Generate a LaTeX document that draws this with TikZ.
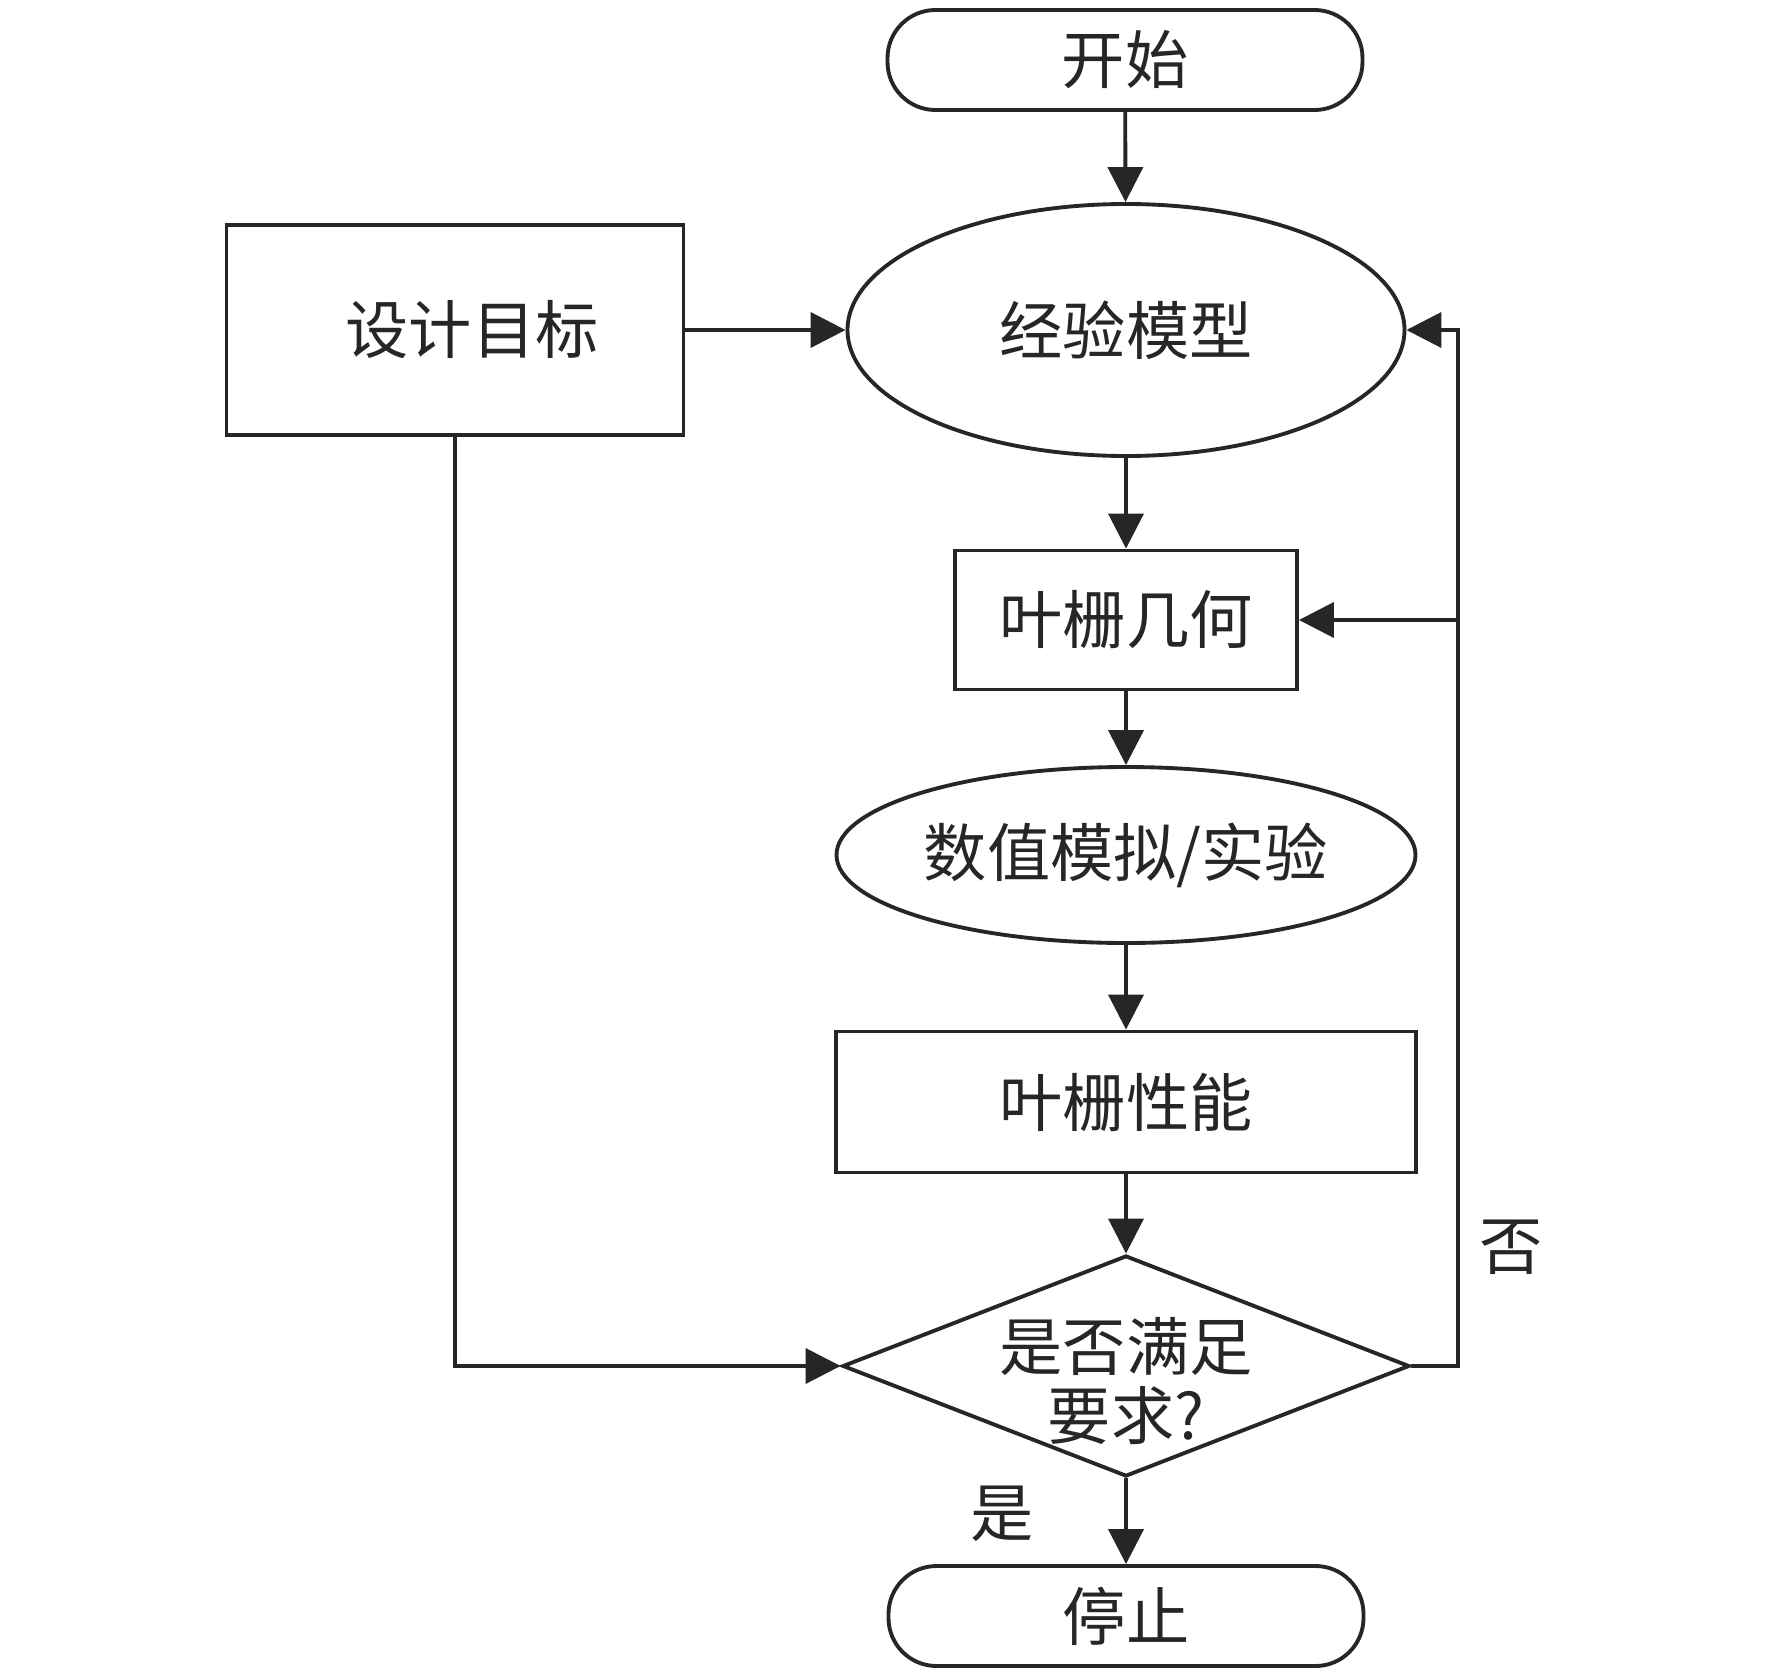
\documentclass[tikz,border=0pt]{standalone}
\usepackage{fontspec}
\setmainfont{Noto Sans CJK SC}
\usetikzlibrary{arrows.meta, positioning, calc, shapes.geometric}

\begin{document}
\begin{tikzpicture}[>={Triangle[length=3.5mm, width=3.5mm]}, line width=1.1pt, color=black!85,
  font=\fontsize{18}{26}\selectfont,
  term/.style={draw, rectangle, rounded corners=4.8mm, minimum width=4.75cm, minimum height=1.0cm, inner sep=0pt},
  proc/.style={draw, rectangle, inner sep=0pt},
  oval/.style={draw, ellipse, inner sep=0pt},
  judge/.style={draw, diamond, inner sep=0pt, minimum width=5.67cm, minimum height=2.21cm}]
\useasboundingbox (0,0) rectangle (17.72,-16.77);
% 流程主干
\node[term] (start) at (11.25,-0.60) {开始};
\node[oval, minimum width=5.57cm, minimum height=2.52cm] (model) at (11.26,-3.30) {经验模型};
\node[proc, minimum width=4.57cm, minimum height=2.10cm] (target) at (4.55,-3.30) {\hspace*{3.4mm}设计目标};
\node[proc, minimum width=3.42cm, minimum height=1.39cm] (geom) at (11.26,-6.20) {叶栅几何};
\node[oval, minimum width=5.79cm, minimum height=1.76cm] (sim) at (11.26,-8.55) {数值模拟/实验};
\node[proc, minimum width=5.80cm, minimum height=1.41cm] (perf) at (11.26,-11.02) {叶栅性能};
\node[judge, label={[align=center, font=\fontsize{18}{19.5}\selectfont, yshift=-1.5mm]center:是否满足\\要求?}] (check) at (11.26,-13.66) {};
\node[term] (stop) at (11.26,-16.16) {停止};
% 判断分支
\node (no) at (15.11,-12.47) {否};
\node (yes) at (10.02,-15.14) {是};
\coordinate (loop) at (14.58,-6.20);
% 连线
\draw[->] (start) -- (model);
\draw[->] (target) -- (model);
\draw[->] (model) -- (geom);
\draw[->] (geom) -- (sim);
\draw[->] (sim) -- (perf);
\draw[->] (perf) -- (check);
\draw[->] (check) -- (stop);
\draw[->] (check.east) -- (check.east -| loop) -- (loop |- model.east) -- (model.east);
\draw[->] (loop) -- (geom.east);
\draw[->] (target.south) |- (check.west);
\end{tikzpicture}
\end{document}
